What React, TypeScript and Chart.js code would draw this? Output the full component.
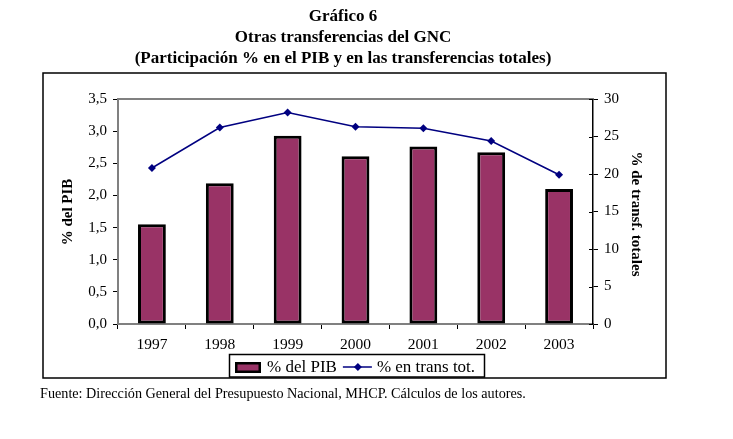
import React, { useEffect, useRef } from "react";
import { Chart, registerables } from "chart.js";

Chart.register(...registerables);

const years = ["1997", "1998", "1999", "2000", "2001", "2002", "2003"];
const pibValues = [1.55, 2.19, 2.93, 2.61, 2.76, 2.67, 2.1];
const transValues = [20.8, 26.2, 28.2, 26.3, 26.1, 24.4, 19.9];
const titleLines = [
  "Gráfico 6",
  "Otras transferencias del GNC",
  "(Participación % en el PIB y en las transferencias totales)",
];
const leftAxisTitle = "% del PIB";
const rightAxisTitle = "% de transf. totales";
const footerText =
  "Fuente: Dirección General del Presupuesto Nacional, MHCP. Cálculos de los autores.";
const seriesLabels = ["% del PIB", "% en trans tot."];

const FONT = "'Liberation Serif', 'Times New Roman', serif";
const BAR_COLOR = "#993366";
const LINE_COLOR = "#000080";

const decorPlugin = {
  id: "decor",
  afterDraw(chart: any) {
    const ctx = chart.ctx as CanvasRenderingContext2D;
    const ca = chart.chartArea;
    ctx.save();

    // outer frame
    ctx.strokeStyle = "#000";
    ctx.lineWidth = 1.5;
    ctx.strokeRect(43, 73, 623, 305);

    // top border of plot area
    ctx.strokeStyle = "#808080";
    ctx.lineWidth = 2;
    ctx.beginPath();
    ctx.moveTo(ca.left, ca.top);
    ctx.lineTo(ca.right, ca.top);
    ctx.stroke();

    // inner halves of right-axis ticks
    const y1 = chart.scales.y1;
    ctx.strokeStyle = "#000";
    ctx.lineWidth = 1;
    y1.ticks.forEach((t: any) => {
      const py = Math.round(y1.getPixelForValue(t.value)) + 0.5;
      ctx.beginPath();
      ctx.moveTo(ca.right - 4, py);
      ctx.lineTo(ca.right, py);
      ctx.stroke();
    });

    // titles
    ctx.fillStyle = "#000";
    ctx.textAlign = "center";
    ctx.textBaseline = "middle";
    ctx.font = `bold 17px ${FONT}`;
    const ty = [17, 38, 59];
    titleLines.forEach((line, i) => ctx.fillText(line, 343, ty[i]));

    // axis titles
    ctx.font = `bold 15px ${FONT}`;
    ctx.save();
    ctx.translate(68, 212);
    ctx.rotate(-Math.PI / 2);
    ctx.fillText(leftAxisTitle, 0, 0);
    ctx.restore();
    ctx.save();
    ctx.translate(636, 214);
    ctx.rotate(Math.PI / 2);
    ctx.fillText(rightAxisTitle, 0, 0);
    ctx.restore();

    // legend
    const ds = chart.data.datasets;
    ctx.lineWidth = 1.5;
    ctx.strokeStyle = "#000";
    ctx.strokeRect(229.5, 354.5, 255, 22.5);
    const ly = 367;
    // bar swatch
    ctx.fillStyle = "#000";
    ctx.fillRect(235, 362, 26, 11);
    ctx.fillStyle = BAR_COLOR;
    ctx.fillRect(237.5, 364.5, 21, 6);
    ctx.fillStyle = "#000";
    ctx.font = `17px ${FONT}`;
    ctx.textAlign = "left";
    let x = 267;
    ctx.fillText(ds[0].label, x, ly + 0.5);
    x += ctx.measureText(ds[0].label).width + 6;
    // line swatch
    ctx.strokeStyle = LINE_COLOR;
    ctx.lineWidth = 1.5;
    ctx.beginPath();
    ctx.moveTo(x, ly);
    ctx.lineTo(x + 29, ly);
    ctx.stroke();
    ctx.fillStyle = LINE_COLOR;
    ctx.beginPath();
    ctx.moveTo(x + 15, ly - 4);
    ctx.lineTo(x + 19, ly);
    ctx.lineTo(x + 15, ly + 4);
    ctx.lineTo(x + 11, ly);
    ctx.closePath();
    ctx.fill();
    x += 34;
    ctx.fillStyle = "#000";
    ctx.fillText(ds[1].label, x, ly + 0.5);

    // footer
    ctx.font = `14.2px ${FONT}`;
    ctx.fillText(footerText, 40, 394);

    ctx.restore();
  },
};

export default function App() {
  const canvasRef = useRef<HTMLCanvasElement | null>(null);

  useEffect(() => {
    if (!canvasRef.current) return;
    Chart.defaults.font.family = FONT;
    const chart = new Chart(canvasRef.current, {
      type: "bar",
      data: {
        labels: years,
        datasets: [
          {
            type: "bar",
            label: seriesLabels[0],
            data: pibValues,
            yAxisID: "y",
            backgroundColor: BAR_COLOR,
            borderColor: "#000",
            borderWidth: 3,
            borderSkipped: false,
            barPercentage: 0.41,
            categoryPercentage: 1,
            order: 2,
          } as any,
          {
            type: "line",
            label: seriesLabels[1],
            data: transValues,
            yAxisID: "y1",
            borderColor: LINE_COLOR,
            backgroundColor: LINE_COLOR,
            borderWidth: 1.5,
            pointStyle: "rectRot",
            pointRadius: 4,
            pointBackgroundColor: LINE_COLOR,
            pointBorderColor: LINE_COLOR,
            pointBorderWidth: 0,
            tension: 0,
            order: 1,
          } as any,
        ],
      },
      options: {
        responsive: false,
        animation: false,
        layout: { padding: { left: 43, right: 67, top: 99, bottom: 90 } },
        plugins: {
          legend: { display: false },
          tooltip: { enabled: false },
          title: { display: false },
        },
        scales: {
          x: {
            offset: true,
            grid: {
              offset: true,
              drawOnChartArea: false,
              drawTicks: true,
              tickLength: 5,
              color: "#000",
            },
            border: { display: true, color: "#808080", width: 2 },
            ticks: { font: { family: FONT, size: 15.5 }, color: "#000", padding: 7, maxRotation: 0 },
            afterFit: (s: any) => {
              s.height = 25;
            },
          },
          y: {
            position: "left",
            min: 0,
            max: 3.5,
            grid: { drawOnChartArea: false, tickLength: 5, color: "#000" },
            border: { display: true, color: "#808080", width: 2 },
            ticks: {
              stepSize: 0.5,
              font: { family: FONT, size: 15 },
              color: "#000",
              padding: 6,
              callback: (v: any) => Number(v).toFixed(1).replace(".", ","),
            },
            afterFit: (s: any) => {
              s.width = 75;
            },
          },
          y1: {
            position: "right",
            min: 0,
            max: 30,
            grid: { drawOnChartArea: false, tickLength: 5, color: "#000" },
            border: { display: true, color: "#000", width: 1.5 },
            ticks: { stepSize: 5, font: { family: FONT, size: 15 }, color: "#000", padding: 6 },
            afterFit: (s: any) => {
              s.width = 73;
            },
          },
        },
      },
      plugins: [decorPlugin],
    });
    return () => chart.destroy();
  }, []);

  return (
    <div style={{ position: "absolute", left: 0, top: 0, width: 733, height: 439, background: "#fff" }}>
      <canvas ref={canvasRef} width={733} height={439} style={{ width: 733, height: 439 }} />
    </div>
  );
}
